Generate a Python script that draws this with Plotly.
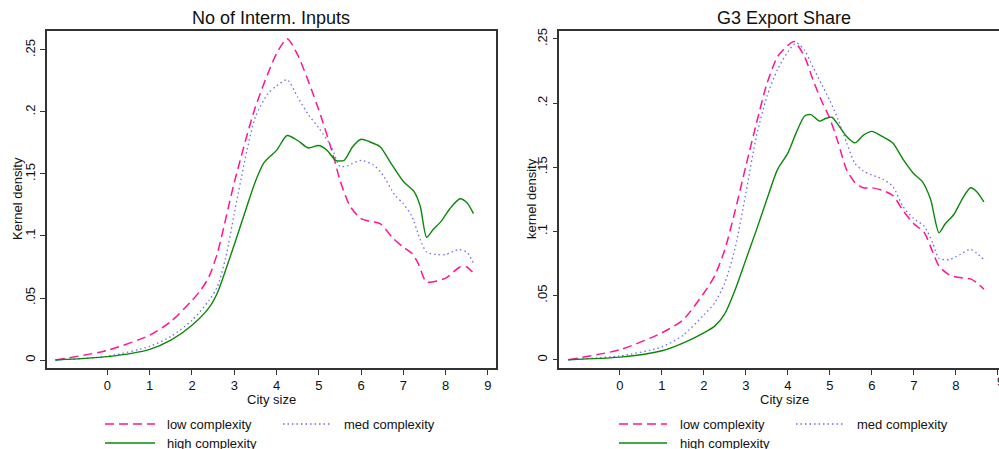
import plotly.graph_objects as go

# ---------------- data ----------------
# Panel 1: No of Interm. Inputs
x_low_1 = [-1.23, 0, 1, 1.5, 2, 2.2, 2.4, 2.6, 3, 3.5, 4, 4.25, 4.5, 5, 5.35, 5.5, 5.74, 6, 6.2, 6.45, 6.76, 7, 7.2, 7.35, 7.55, 8, 8.34, 8.5, 8.66]
y_low_1 = [0, 0.0078, 0.020, 0.031, 0.048, 0.056, 0.067, 0.086, 0.143, 0.204, 0.247, 0.259, 0.246, 0.2016, 0.164, 0.145, 0.124, 0.114, 0.112, 0.110, 0.098, 0.091, 0.086, 0.078, 0.063, 0.066, 0.075, 0.075, 0.070]

x_med_1 = [-1.23, 0, 1, 1.5, 2, 2.4, 2.6, 2.8, 3, 3.3, 3.5, 3.8, 4, 4.25, 4.5, 4.75, 5, 5.3, 5.5, 5.7, 6, 6.3, 6.5, 6.8, 7, 7.2, 7.4, 7.55, 7.8, 8, 8.3, 8.5, 8.66]
y_med_1 = [0, 0.003, 0.011, 0.019, 0.032, 0.048, 0.059, 0.083, 0.118, 0.169, 0.196, 0.215, 0.221, 0.226, 0.212, 0.198, 0.187, 0.172, 0.156, 0.157, 0.161, 0.157, 0.150, 0.133, 0.126, 0.116, 0.097, 0.087, 0.085, 0.085, 0.089, 0.087, 0.078]

x_high_1 = [-1.23, 0, 1, 1.5, 2, 2.4, 2.6, 2.8, 3, 3.3, 3.5, 3.7, 4, 4.25, 4.5, 4.75, 5, 5.2, 5.4, 5.6, 5.8, 6, 6.2, 6.45, 6.7, 7, 7.25, 7.4, 7.55, 7.7, 7.9, 8.1, 8.34, 8.5, 8.66]
y_high_1 = [0, 0.0027, 0.0086, 0.016, 0.028, 0.042, 0.054, 0.073, 0.093, 0.124, 0.144, 0.159, 0.169, 0.181, 0.177, 0.171, 0.173, 0.169, 0.161, 0.161, 0.172, 0.178, 0.176, 0.172, 0.159, 0.144, 0.136, 0.124, 0.099, 0.105, 0.112, 0.122, 0.130, 0.127, 0.118]

# Panel 2: G3 Export Share
x_low_2 = [-1.23, 0, 1, 1.5, 2, 2.25, 2.5, 2.75, 3, 3.25, 3.5, 3.75, 4, 4.15, 4.4, 4.6, 4.8, 5, 5.2, 5.4, 5.6, 5.8, 6, 6.25, 6.5, 6.75, 7, 7.25, 7.45, 7.6, 7.85, 8.1, 8.35, 8.5, 8.67]
y_low_2 = [0, 0.0078, 0.021, 0.031, 0.052, 0.065, 0.086, 0.117, 0.151, 0.184, 0.215, 0.236, 0.245, 0.248, 0.236, 0.218, 0.202, 0.188, 0.169, 0.148, 0.138, 0.134, 0.134, 0.132, 0.128, 0.116, 0.106, 0.099, 0.084, 0.073, 0.066, 0.064, 0.063, 0.060, 0.055]

x_med_2 = [-1.23, 0, 1, 1.5, 2, 2.25, 2.5, 2.75, 3, 3.25, 3.5, 3.75, 4, 4.2, 4.4, 4.6, 4.8, 5, 5.2, 5.4, 5.6, 5.8, 6, 6.25, 6.5, 6.75, 7, 7.25, 7.45, 7.6, 7.85, 8.1, 8.35, 8.5, 8.67]
y_med_2 = [0, 0.003, 0.010, 0.019, 0.035, 0.044, 0.060, 0.088, 0.130, 0.174, 0.205, 0.226, 0.240, 0.247, 0.241, 0.228, 0.215, 0.202, 0.187, 0.169, 0.153, 0.147, 0.144, 0.141, 0.135, 0.119, 0.110, 0.104, 0.091, 0.079, 0.078, 0.082, 0.086, 0.083, 0.078]

x_high_2 = [-1.23, 0, 1, 1.5, 2, 2.25, 2.5, 2.75, 3, 3.25, 3.5, 3.75, 4, 4.2, 4.4, 4.55, 4.75, 4.9, 5.05, 5.2, 5.4, 5.6, 5.8, 6, 6.25, 6.5, 6.75, 7, 7.2, 7.4, 7.6, 7.75, 7.95, 8.15, 8.35, 8.5, 8.67]
y_high_2 = [0, 0.002, 0.007, 0.013, 0.021, 0.026, 0.036, 0.055, 0.078, 0.101, 0.125, 0.148, 0.161, 0.177, 0.190, 0.191, 0.186, 0.188, 0.189, 0.183, 0.174, 0.169, 0.175, 0.178, 0.174, 0.169, 0.156, 0.145, 0.139, 0.125, 0.099, 0.106, 0.113, 0.125, 0.134, 0.131, 0.123]

titles = ["No of Interm. Inputs", "G3 Export Share"]
y_titles = ["Kernel density", "kernel density"]
x_title = "City size"
series_names = ["low complexity", "med complexity", "high complexity"]
y_tickvals = [0, 0.05, 0.1, 0.15, 0.2, 0.25]
y_ticktext = ["0", ".05", ".1", ".15", ".2", ".25"]
x_tickvals = [0, 1, 2, 3, 4, 5, 6, 7, 8, 9]

# ---------------- styles ----------------
W, H = 999, 449
FONT = "Liberation Sans, Arial, Helvetica, sans-serif"
PINK = "#ff1493"
BLUE = "#6a6aff"
GREEN = "#0a880a"
AXC = "#333333"
TXT = "#111111"
styles = [
    dict(color=PINK, width=1.5, dash="9px,5px"),
    dict(color=BLUE, width=1.3, dash="1.5px,3px"),
    dict(color=GREEN, width=1.4, dash="solid"),
]

fig = go.Figure()

panels = [
    ((x_low_1, y_low_1), (x_med_1, y_med_1), (x_high_1, y_high_1)),
    ((x_low_2, y_low_2), (x_med_2, y_med_2), (x_high_2, y_high_2)),
]

for p, data in enumerate(panels):
    xa = "x" if p == 0 else "x2"
    ya = "y" if p == 0 else "y2"
    for s, (xs, ys) in enumerate(data):
        fig.add_trace(go.Scatter(
            x=xs, y=ys, mode="lines", name=series_names[s],
            line=dict(shape="spline", smoothing=0.7, **styles[s]),
            xaxis=xa, yaxis=ya, showlegend=False, hoverinfo="skip",
        ))

ydom = [1 - 368 / H, 1 - 31 / H]
common_x = dict(
    tickvals=x_tickvals, ticks="outside", ticklen=5, tickwidth=1, tickcolor=AXC,
    showline=True, linecolor=AXC, linewidth=1.5, mirror=True,
    showgrid=False, zeroline=False, automargin=False,
    tickfont=dict(family=FONT, size=13, color=TXT),
)
common_y = dict(
    tickvals=y_tickvals, ticktext=y_ticktext, ticks="outside", ticklen=5, tickwidth=1,
    tickcolor=AXC, tickangle=-90,
    showline=True, linecolor=AXC, linewidth=1.5,
    showgrid=False, zeroline=False, automargin=False,
    tickfont=dict(family=FONT, size=13, color=TXT),
)

fig.update_layout(
    width=W, height=H,
    margin=dict(l=0, r=0, t=0, b=0),
    paper_bgcolor="white", plot_bgcolor="white",
    showlegend=False,
    xaxis=dict(domain=[47 / W, 495.5 / W], range=[-1.43, 9.18], anchor="y", **common_x),
    yaxis=dict(domain=ydom, range=[-0.00645, 0.2653], anchor="x", mirror=True, **common_y),
    xaxis2=dict(domain=[559.3 / W, 1.0], range=[-1.445, 9.03], anchor="y2", **common_x),
    yaxis2=dict(domain=ydom, range=[-0.00646, 0.2562], anchor="x2", mirror=False, **common_y),
)

# titles and axis titles
for cx, t in [(271, titles[0]), (784, titles[1])]:
    fig.add_annotation(x=cx / W, y=1 - 18 / H, xref="paper", yref="paper", text=t,
                       showarrow=False, font=dict(family=FONT, size=18, color=TXT),
                       xanchor="center", yanchor="middle")
    fig.add_annotation(x=cx / W, y=1 - 399 / H, xref="paper", yref="paper", text=x_title,
                       showarrow=False, font=dict(family=FONT, size=13, color=TXT),
                       xanchor="center", yanchor="middle")
for cx, t in [(17, y_titles[0]), (531, y_titles[1])]:
    fig.add_annotation(x=cx / W, y=1 - 199 / H, xref="paper", yref="paper", text=t,
                       showarrow=False, textangle=-90,
                       font=dict(family=FONT, size=13, color=TXT),
                       xanchor="center", yanchor="middle")

# partially visible "9" tick label at the right edge of the second panel
fig.add_annotation(x=1000.5 / W, y=1 - 381 / H, xref="paper", yref="paper", text="9",
                   showarrow=False, font=dict(family=FONT, size=13, color=TXT),
                   xanchor="center", yanchor="middle")

# legends
legend_pos = [
    [(105, 155, 165, 424), (283, 332, 342, 424), (105, 155, 165, 443)],
    [(619, 667, 678, 424), (796, 845, 855, 424), (619, 667, 678, 443)],
]
for p in range(2):
    for s in range(3):
        x0, x1, tx, yy = legend_pos[p][s]
        st = styles[s]
        fig.add_shape(type="line", xref="paper", yref="paper",
                      x0=x0 / W, x1=x1 / W, y0=1 - yy / H, y1=1 - yy / H,
                      line=dict(color=st["color"], width=st["width"], dash=st["dash"]))
        fig.add_annotation(x=tx / W, y=1 - yy / H, xref="paper", yref="paper",
                           text=series_names[s], showarrow=False,
                           font=dict(family=FONT, size=13, color=TXT),
                           xanchor="left", yanchor="middle")

fig.write_html("out.html")
